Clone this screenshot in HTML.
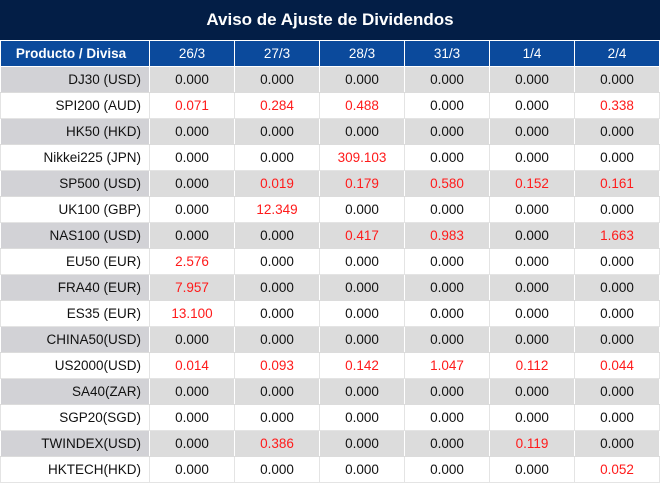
<!DOCTYPE html>
<html><head><meta charset="utf-8"><style>
body{margin:0;width:660px;height:483px;background:#fff;font-family:"Liberation Sans",sans-serif;overflow:hidden}
.title{position:absolute;left:0;top:0;width:660px;height:40px;background:#031e46;color:#fff;font-weight:bold;font-size:17px;line-height:40px;text-align:center}
table{position:absolute;left:0;top:40px;border-collapse:collapse;table-layout:fixed;width:659px}
td{height:25px;padding:0;font-size:13.5px;text-align:center;border:1px solid #e4e4e4;color:#111}
tr.h td{background:#0b4a9c;color:#fff;border-color:#fff;border-top:1px solid #fff}
tr.h td:first-child{font-weight:bold;text-align:center}
td:first-child{text-align:right;padding-right:8px}
tr.g td{background:#dcdcdc;border-color:#dcdcdc #fff}
tr.g td:first-child{background:#d2d2d6}
.r{color:#ff1a1a}
</style></head><body>
<div class="title">Aviso de Ajuste de Dividendos</div>
<table>
<colgroup><col style="width:149px"><col style="width:85px"><col style="width:85px"><col style="width:85px"><col style="width:85px"><col style="width:85px"><col style="width:85px"></colgroup>
<tr class="h"><td>Producto / Divisa</td><td>26/3</td><td>27/3</td><td>28/3</td><td>31/3</td><td>1/4</td><td>2/4</td></tr>
<tr class="g"><td>DJ30 (USD)</td><td>0.000</td><td>0.000</td><td>0.000</td><td>0.000</td><td>0.000</td><td>0.000</td></tr>
<tr><td>SPI200 (AUD)</td><td class="r">0.071</td><td class="r">0.284</td><td class="r">0.488</td><td>0.000</td><td>0.000</td><td class="r">0.338</td></tr>
<tr class="g"><td>HK50 (HKD)</td><td>0.000</td><td>0.000</td><td>0.000</td><td>0.000</td><td>0.000</td><td>0.000</td></tr>
<tr><td>Nikkei225 (JPN)</td><td>0.000</td><td>0.000</td><td class="r">309.103</td><td>0.000</td><td>0.000</td><td>0.000</td></tr>
<tr class="g"><td>SP500 (USD)</td><td>0.000</td><td class="r">0.019</td><td class="r">0.179</td><td class="r">0.580</td><td class="r">0.152</td><td class="r">0.161</td></tr>
<tr><td>UK100 (GBP)</td><td>0.000</td><td class="r">12.349</td><td>0.000</td><td>0.000</td><td>0.000</td><td>0.000</td></tr>
<tr class="g"><td>NAS100 (USD)</td><td>0.000</td><td>0.000</td><td class="r">0.417</td><td class="r">0.983</td><td>0.000</td><td class="r">1.663</td></tr>
<tr><td>EU50 (EUR)</td><td class="r">2.576</td><td>0.000</td><td>0.000</td><td>0.000</td><td>0.000</td><td>0.000</td></tr>
<tr class="g"><td>FRA40 (EUR)</td><td class="r">7.957</td><td>0.000</td><td>0.000</td><td>0.000</td><td>0.000</td><td>0.000</td></tr>
<tr><td>ES35 (EUR)</td><td class="r">13.100</td><td>0.000</td><td>0.000</td><td>0.000</td><td>0.000</td><td>0.000</td></tr>
<tr class="g"><td>CHINA50(USD)</td><td>0.000</td><td>0.000</td><td>0.000</td><td>0.000</td><td>0.000</td><td>0.000</td></tr>
<tr><td>US2000(USD)</td><td class="r">0.014</td><td class="r">0.093</td><td class="r">0.142</td><td class="r">1.047</td><td class="r">0.112</td><td class="r">0.044</td></tr>
<tr class="g"><td>SA40(ZAR)</td><td>0.000</td><td>0.000</td><td>0.000</td><td>0.000</td><td>0.000</td><td>0.000</td></tr>
<tr><td>SGP20(SGD)</td><td>0.000</td><td>0.000</td><td>0.000</td><td>0.000</td><td>0.000</td><td>0.000</td></tr>
<tr class="g"><td>TWINDEX(USD)</td><td>0.000</td><td class="r">0.386</td><td>0.000</td><td>0.000</td><td class="r">0.119</td><td>0.000</td></tr>
<tr><td>HKTECH(HKD)</td><td>0.000</td><td>0.000</td><td>0.000</td><td>0.000</td><td>0.000</td><td class="r">0.052</td></tr>
</table>
</body></html>
